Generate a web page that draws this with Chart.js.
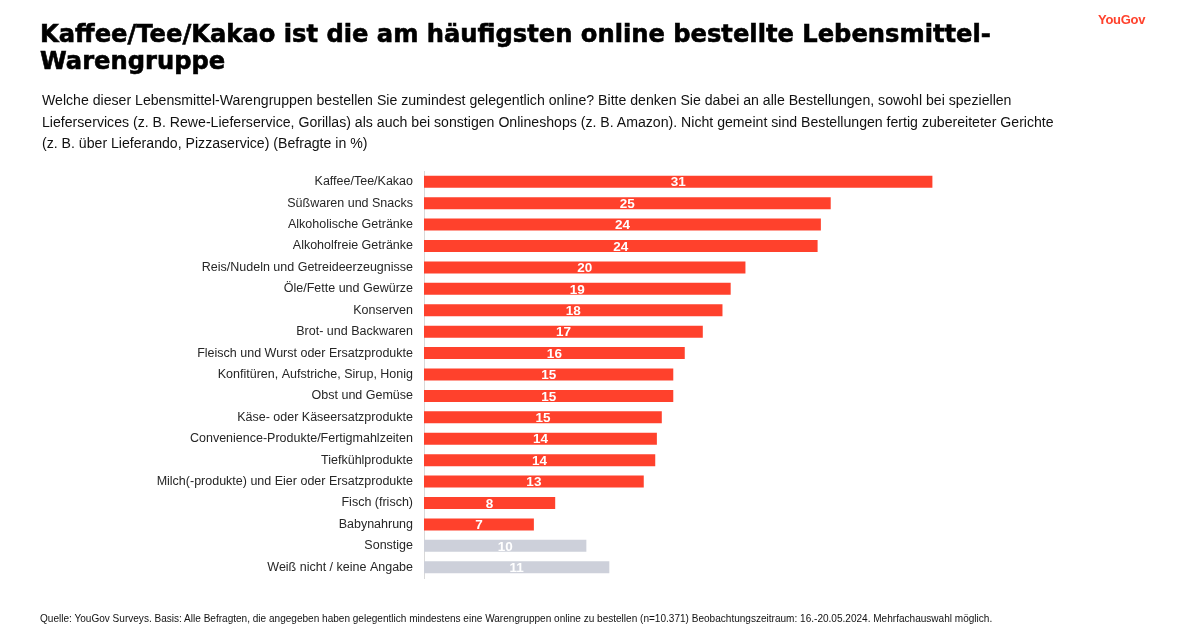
<!DOCTYPE html>
<html lang="de">
<head>
<meta charset="utf-8">
<title>Kaffee/Tee/Kakao ist die am häufigsten online bestellte Lebensmittel-Warengruppe</title>
<script src="https://cdn.jsdelivr.net/npm/chart.js@4.4.1/dist/chart.umd.min.js"></script>
<style>
  html, body { margin: 0; padding: 0; background: #ffffff; }
  body { width: 1200px; height: 631px; position: relative; overflow: hidden; }
  #chart { position: absolute; left: 0; top: 0; }
  .txt { position: absolute; white-space: nowrap; color: #000; }
  #title { left: 40px; top: 21px; font-family: "DejaVu Sans", sans-serif; font-weight: bold; font-size: 24.2px; line-height: 26.5px; -webkit-text-stroke: 0.6px #000; }
  #subtitle { left: 42px; top: 89.8px; font-family: "Liberation Sans", Arial, sans-serif; font-size: 14.12px; line-height: 21.7px; color: #111; }
  #footer { left: 40px; top: 613px; font-family: "Liberation Sans", Arial, sans-serif; font-size: 10.05px; line-height: 12px; color: #111; }
  #logo { left: 1098px; top: 14.2px; font-family: "Liberation Sans", Arial, sans-serif; font-weight: bold; font-size: 13px; line-height: 12px; color: #ff412c; letter-spacing: -0.3px; }
</style>
</head>
<body>
<canvas id="chart" width="1200" height="631"></canvas>
<div class="txt" id="title">Kaffee/Tee/Kakao ist die am häufigsten online bestellte Lebensmittel-<br>Warengruppe</div>
<div class="txt" id="logo">YouGov</div>
<div class="txt" id="subtitle">Welche dieser Lebensmittel-Warengruppen bestellen Sie zumindest gelegentlich online? Bitte denken Sie dabei an alle Bestellungen, sowohl bei speziellen<br>Lieferservices (z. B. Rewe-Lieferservice, Gorillas) als auch bei sonstigen Onlineshops (z. B. Amazon). Nicht gemeint sind Bestellungen fertig zubereiteter Gerichte<br>(z. B. über Lieferando, Pizzaservice) (Befragte in %)</div>
<div class="txt" id="footer">Quelle: YouGov Surveys. Basis: Alle Befragten, die angegeben haben gelegentlich mindestens eine Warengruppen online zu bestellen (n=10.371) Beobachtungszeitraum: 16.-20.05.2024. Mehrfachauswahl möglich.</div>
<script>
// ---- Data ----
const categories = [
  "Kaffee/Tee/Kakao",
  "Süßwaren und Snacks",
  "Alkoholische Getränke",
  "Alkoholfreie Getränke",
  "Reis/Nudeln und Getreideerzeugnisse",
  "Öle/Fette und Gewürze",
  "Konserven",
  "Brot- und Backwaren",
  "Fleisch und Wurst oder Ersatzprodukte",
  "Konfitüren, Aufstriche, Sirup, Honig",
  "Obst und Gemüse",
  "Käse- oder Käseersatzprodukte",
  "Convenience-Produkte/Fertigmahlzeiten",
  "Tiefkühlprodukte",
  "Milch(-produkte) und Eier oder Ersatzprodukte",
  "Fisch (frisch)",
  "Babynahrung",
  "Sonstige",
  "Weiß nicht / keine Angabe"
];
const values = [31.0, 24.8, 24.2, 24.0, 19.6, 18.7, 18.2, 17.0, 15.9, 15.2, 15.2, 14.5, 14.2, 14.1, 13.4, 8.0, 6.7, 9.9, 11.3];
const otherCategories = ["Sonstige", "Weiß nicht / keine Angabe"];

// ---- Styles ----
const RED = "#ff412c";
const GREY = "#cdd0da";
const FONT = "'Liberation Sans', Arial, sans-serif";

const barLabels = {
  id: "barLabels",
  afterDatasetsDraw(chart) {
    const ctx = chart.ctx;
    const meta = chart.getDatasetMeta(0);
    ctx.save();
    ctx.font = "bold 13.5px " + FONT;
    ctx.fillStyle = "#ffffff";
    ctx.textAlign = "center";
    ctx.textBaseline = "middle";
    meta.data.forEach((el, i) => {
      const cx = (el.base + el.x) / 2;
      ctx.fillText(String(Math.round(values[i])), cx, el.y + 1);
    });
    ctx.restore();
  }
};

new Chart(document.getElementById("chart"), {
  type: "bar",
  data: {
    labels: categories,
    datasets: [{
      data: values,
      backgroundColor: categories.map(c => otherCategories.includes(c) ? GREY : RED),
      borderWidth: 0,
      barPercentage: 0.56,
      categoryPercentage: 1.0
    }]
  },
  options: {
    indexAxis: "y",
    responsive: false,
    animation: false,
    devicePixelRatio: 1,
    layout: { padding: { top: 171, bottom: 53, left: 0, right: 120 } },
    plugins: { legend: { display: false }, tooltip: { enabled: false }, title: { display: false } },
    scales: {
      x: { display: false, min: 0, max: 40 },
      y: {
        afterFit(scale) { scale.width = 424; },
        grid: { display: false, drawTicks: false },
        border: { display: true, color: "#d9d9d9", width: 1 },
        ticks: { padding: 11, color: "#262626", font: { family: FONT, size: 12.5 } }
      }
    }
  },
  plugins: [barLabels]
});
</script>
</body>
</html>
